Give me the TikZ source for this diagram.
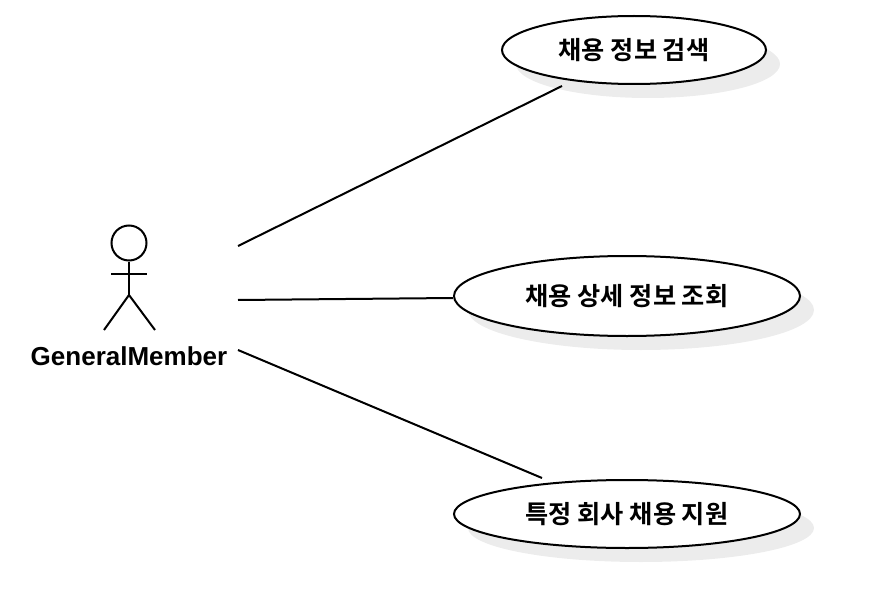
\documentclass[tikz,border=0pt]{standalone}
\usepackage{fontspec}
\setmainfont{Liberation Sans}
\newfontfamily\krfont{Noto Sans CJK KR}[BoldFont={* Bold}]
\usetikzlibrary{shapes.geometric}
\definecolor{shadowgrey}{HTML}{ECECEC}
\newcommand{\uclabel}[1]{\raisebox{1pt}{#1}}
\tikzset{
  x=1pt,y=-1pt,
  usecase/.style={ellipse,draw=black,fill=white,line width=2pt,inner sep=0pt,font=\krfont\bfseries\fontsize{25.2}{29}\selectfont},
  ushadow/.style={ellipse,fill=shadowgrey,inner sep=0pt},
  assoc/.style={draw=black,line width=2pt},
  stick/.style={draw=black,line width=2pt},
  actorlabel/.style={inner sep=0pt,font=\bfseries\fontsize{26}{30}\selectfont},
}
\begin{document}
\begin{tikzpicture}
\useasboundingbox (0,0) rectangle (892,594);
% shadows
\node[ushadow,minimum width=264pt,minimum height=68pt] (s1) at (648,64) {};
\node[ushadow,minimum width=346pt,minimum height=80pt] (s2) at (641,310) {};
\node[ushadow,minimum width=346pt,minimum height=68pt] (s3) at (641,528) {};
% use cases
\node[usecase,minimum width=264pt,minimum height=68pt] (u1) at (634,50) {\uclabel{채용 정보 검색}};
\node[usecase,minimum width=346pt,minimum height=80pt] (u2) at (627,296) {\uclabel{채용 상세 정보 조회}};
\node[usecase,minimum width=346pt,minimum height=68pt] (u3) at (627,514) {\uclabel{특정 회사 채용 지원}};
% actor
\node[circle,stick,minimum size=35pt,inner sep=0pt] (head) at (129,243) {};
\coordinate (hip) at (129,295);
\coordinate (armL) at (111,273.5);
\coordinate (armR) at (147,273.5);
\coordinate (footL) at (104,330);
\coordinate (footR) at (155,330);
\draw[stick] (head.south) -- (hip);
\draw[stick] (armL) -- (armR);
\draw[stick] (footL) -- (hip) -- (footR);
\node[actorlabel] (actor) at (129,356.5) {GeneralMember};
% associations
\coordinate (a1) at (238,246);
\coordinate (a2) at (238,300);
\coordinate (a3) at (238,350);
\coordinate (b1) at (562,86);
\coordinate (b2) at (453,298);
\coordinate (b3) at (542,478);
\draw[assoc] (a1) -- (b1);
\draw[assoc] (a2) -- (b2);
\draw[assoc] (a3) -- (b3);
\end{tikzpicture}
\end{document}
